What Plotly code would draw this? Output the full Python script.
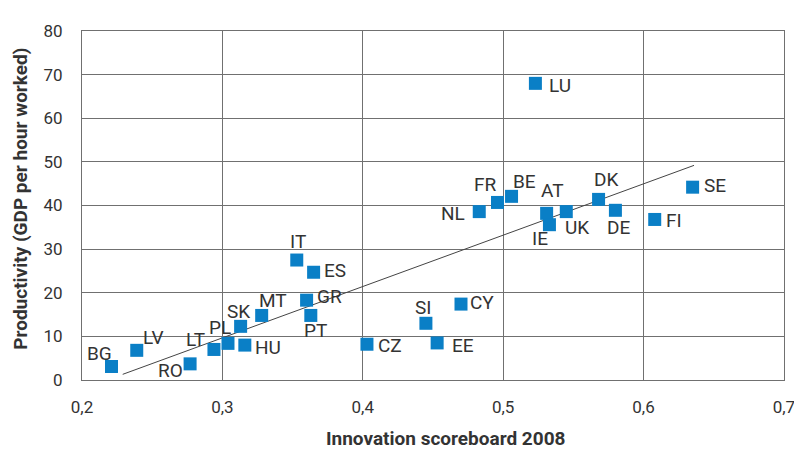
import plotly.graph_objects as go

countries = ["BG", "LV", "RO", "LT", "PL", "SK", "HU", "MT", "IT", "ES", "GR", "PT",
             "LU", "FR", "BE", "NL", "AT", "IE", "UK", "DK", "DE", "FI", "SE",
             "SI", "CY", "CZ", "EE"]
innovation = [0.221, 0.239, 0.277, 0.294, 0.304, 0.313, 0.316, 0.328, 0.353, 0.365, 0.360, 0.363,
              0.523, 0.496, 0.506, 0.483, 0.531, 0.533, 0.545, 0.568, 0.580, 0.608, 0.635,
              0.445, 0.470, 0.403, 0.453]
productivity = [3.1, 6.8, 3.7, 7.0, 8.4, 12.3, 8.0, 14.8, 27.5, 24.7, 18.3, 14.8,
                68.0, 40.7, 42.1, 38.6, 38.2, 35.6, 38.6, 41.4, 38.9, 36.8, 44.2,
                13.0, 17.4, 8.2, 8.5]
trend_x = [0.229, 0.636]
trend_y = [1.3, 49.2]

x_ticks = [0.2, 0.3, 0.4, 0.5, 0.6, 0.7]
x_tick_labels = ["0,2", "0,3", "0,4", "0,5", "0,6", "0,7"]
y_ticks = [0, 10, 20, 30, 40, 50, 60, 70, 80]
x_title = "Innovation scoreboard 2008"
y_title = "Productivity (GDP per hour worked)"

# label offsets in pixels (dx right, dy down)
label_offsets = {
    "BG": (-12, -13), "LV": (17, -13), "RO": (-20, 7), "LT": (-18, -10),
    "PL": (-8, -16), "SK": (-2, -15), "HU": (23, 2), "MT": (11, -15),
    "IT": (1, -19), "ES": (21, -2), "GR": (23, -4), "PT": (5, 15),
    "LU": (25, 2), "FR": (-12, -18), "BE": (13, -15), "NL": (-26, 2),
    "AT": (6, -23), "IE": (-9, 14), "UK": (11, 16), "DK": (7, -20),
    "DE": (3, 17), "FI": (19, 1), "SE": (22, -2), "SI": (-3, -16),
    "CY": (21, -2), "CZ": (23, 1), "EE": (26, 3),
}

FONT = "Roboto, 'Liberation Sans', sans-serif"
TXT = "#333333"
GRID = "#707070"

fig = go.Figure()
fig.add_trace(go.Scatter(x=trend_x, y=trend_y, mode="lines",
                         line=dict(color="#444444", width=1), hoverinfo="skip",
                         showlegend=False))
fig.add_trace(go.Scatter(x=innovation, y=productivity, mode="markers",
                         marker=dict(symbol="square", size=13, color="#0A7FC6",
                                     line=dict(width=0)),
                         text=countries, showlegend=False))

for c, xv, yv in zip(countries, innovation, productivity):
    dx, dy = label_offsets[c]
    fig.add_annotation(x=xv, y=yv, text=c, showarrow=False,
                       xshift=dx, yshift=-dy, xanchor="center", yanchor="middle",
                       font=dict(family=FONT, size=19, color=TXT))

fig.add_annotation(x=0.5185, y=-0.169, xref="paper", yref="paper", text=f"<b>{x_title}</b>",
                   showarrow=False, xanchor="center", yanchor="middle",
                   font=dict(family=FONT, size=19, color=TXT))
fig.add_annotation(x=-0.088, y=0.52, xref="paper", yref="paper", text=f"<b>{y_title}</b>",
                   showarrow=False, xanchor="center", yanchor="middle", textangle=-90,
                   font=dict(family=FONT, size=19, color=TXT))

fig.update_layout(
    width=794, height=450,
    margin=dict(l=82, r=10, t=31, b=70),
    paper_bgcolor="white", plot_bgcolor="white",
    font=dict(family=FONT, color=TXT, size=17),
)
fig.update_xaxes(range=[0.2, 0.7001], tickvals=x_ticks, ticktext=x_tick_labels,
                 showgrid=True, gridcolor=GRID, gridwidth=1,
                 showline=True, linecolor=GRID, linewidth=1, mirror=True,
                 zeroline=False, ticks="", ticklabelstandoff=12, automargin=False,
                 ticklabeloverflow="allow",
                 tickfont=dict(size=17, color=TXT))
fig.update_yaxes(range=[0, 80], tickvals=y_ticks,
                 showgrid=True, gridcolor=GRID, gridwidth=1,
                 showline=True, linecolor=GRID, linewidth=1, mirror=True,
                 zeroline=False, ticks="", ticklabelstandoff=15, automargin=False,
                 tickfont=dict(size=17, color=TXT))

fig.write_html("out.html", config={"displayModeBar": False},
               post_script="document.body.style.margin='0';document.body.style.overflow='hidden';")
